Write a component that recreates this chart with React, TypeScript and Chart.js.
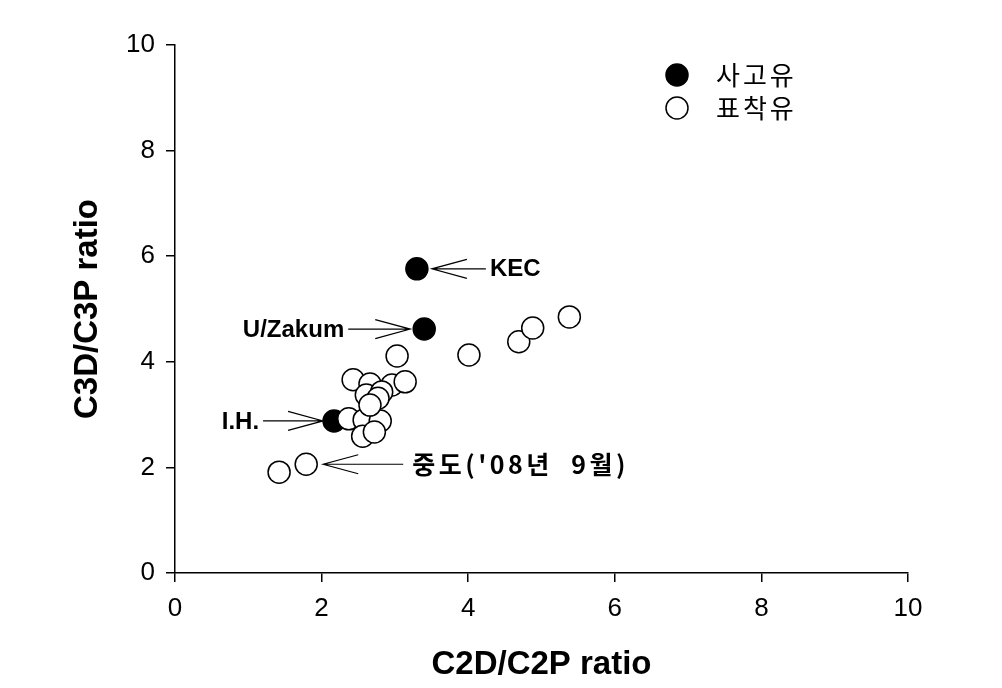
import React, { useEffect, useRef } from "react";
import { Chart, registerables } from "chart.js";

Chart.register(...registerables);

// ---- data ----
const spillNames = ["KEC", "U/Zakum", "I.H."];
const spillX = [3.3, 3.4, 2.17];
const spillY = [5.76, 4.62, 2.88];

const beachedX = [1.42, 1.79, 2.37, 2.58, 2.8, 2.56, 2.72, 2.43, 2.66, 2.96, 3.14, 2.61, 2.82, 2.77, 2.66, 3.03, 4.01, 4.69, 4.88, 5.38];
const beachedY = [1.91, 2.06, 2.92, 2.9, 2.88, 2.59, 2.67, 3.66, 3.58, 3.56, 3.62, 3.37, 3.43, 3.31, 3.18, 4.11, 4.13, 4.38, 4.64, 4.85];

const legendLabels = ["사고유", "표착유"];
const xTitle = "C2D/C2P ratio";
const yTitle = "C3D/C3P ratio";
const tickValues = [0, 2, 4, 6, 8, 10];
const jungdoLabel = "중도('08년  9월)";

// annotation: which series/point, side of the arrow, label
const annotations = [
  { series: 0, index: 0, side: "right", label: spillNames[0], korean: false },
  { series: 0, index: 1, side: "left", label: spillNames[1], korean: false },
  { series: 0, index: 2, side: "left", label: spillNames[2], korean: false },
  { series: 1, index: 1, side: "right", label: jungdoLabel, korean: true },
];

const LAT = "'Liberation Sans', Arial, sans-serif";
const KR = "'Noto Sans CJK KR', sans-serif";

const overlayPlugin = {
  id: "overlay",
  afterDatasetsDraw(chart: any) {
    const ctx = chart.ctx;
    const xs = chart.scales.x;
    const ys = chart.scales.y;
    const area = chart.chartArea;
    ctx.save();
    // arrows
    ctx.strokeStyle = "#000";
    ctx.fillStyle = "#000";
    ctx.lineWidth = 1.2;
    const tipGap: Record<string, number> = { KEC: 15, "U/Zakum": 14, "I.H.": 11 };
    const lineLen: Record<string, number> = { KEC: 54, "U/Zakum": 62, "I.H.": 60 };
    annotations.forEach((a) => {
      const vx = a.series === 0 ? spillX[a.index] : beachedX[a.index];
      const vy = a.series === 0 ? spillY[a.index] : beachedY[a.index];
      const px = xs.getPixelForValue(vx);
      const py = ys.getPixelForValue(vy);
      const gap = a.korean ? 17 : tipGap[a.label];
      const len = a.korean ? 80 : lineLen[a.label];
      const dir = a.side === "right" ? 1 : -1;
      const tipX = px + dir * gap;
      const endX = tipX + dir * len;
      ctx.beginPath();
      ctx.moveTo(tipX, py);
      ctx.lineTo(endX, py);
      ctx.moveTo(tipX + dir * 35, py - 9.5);
      ctx.lineTo(tipX, py);
      ctx.lineTo(tipX + dir * 35, py + 9.5);
      ctx.stroke();
      ctx.textBaseline = "middle";
      if (a.korean) {
        ctx.font = `600 25px ${KR}`;
        ctx.textAlign = "left";
        (ctx as any).letterSpacing = "3.5px";
        ctx.fillText(a.label, endX + 9, py);
        (ctx as any).letterSpacing = "0px";
      } else {
        ctx.font = `bold 24px ${LAT}`;
        ctx.textAlign = a.side === "right" ? "left" : "right";
        ctx.fillText(a.label, endX + dir * 4, py + 1);
      }
    });

    // legend
    const lx = area.left + 502;
    const ly = [area.top + 30, area.top + 63];
    legendLabels.forEach((lab, i) => {
      ctx.beginPath();
      ctx.arc(lx, ly[i], 11, 0, Math.PI * 2);
      ctx.fillStyle = i === 0 ? "#000" : "#fff";
      ctx.fill();
      ctx.lineWidth = 1.5;
      ctx.strokeStyle = "#000";
      ctx.stroke();
      ctx.fillStyle = "#000";
      ctx.font = `400 26px ${KR}`;
      ctx.textAlign = "left";
      ctx.textBaseline = "middle";
      (ctx as any).letterSpacing = "3px";
      ctx.fillText(lab, lx + 39, ly[i]);
      (ctx as any).letterSpacing = "0px";
    });

    // axis titles
    ctx.fillStyle = "#000";
    ctx.font = `bold 33px ${LAT}`;
    ctx.textAlign = "center";
    ctx.textBaseline = "middle";
    ctx.fillText(xTitle, (area.left + area.right) / 2, area.bottom + 92);
    ctx.save();
    ctx.translate(area.left - 87, (area.top + area.bottom) / 2);
    ctx.rotate(-Math.PI / 2);
    ctx.fillText(yTitle, 0, 0);
    ctx.restore();
    ctx.restore();
  },
};

export default function App() {
  const ref = useRef<HTMLCanvasElement | null>(null);
  useEffect(() => {
    if (!ref.current) return;
    const axisCommon = {
      type: "linear" as const,
      min: 0,
      max: 10,
      border: { display: true, color: "#000", width: 1.5 },
      grid: { display: true, drawOnChartArea: false, drawTicks: true, tickLength: 9, color: "#000", lineWidth: 1.5 },
      afterBuildTicks: (s: any) => {
        s.ticks = tickValues.map((v) => ({ value: v }));
      },
      ticks: {
        color: "#000",
        font: { family: LAT, size: 26 },
        padding: 11,
        callback: (v: any) => String(v),
      },
    };
    const chart = new Chart(ref.current, {
      type: "scatter",
      data: {
        datasets: [
          {
            label: legendLabels[0],
            data: spillX.map((x, i) => ({ x, y: spillY[i] })),
            backgroundColor: "#000",
            borderColor: "#000",
            borderWidth: 1.5,
            pointRadius: 11,
            pointHoverRadius: 11,
            order: 2,
          },
          {
            label: legendLabels[1],
            data: beachedX.map((x, i) => ({ x, y: beachedY[i] })),
            backgroundColor: "#fff",
            borderColor: "#000",
            borderWidth: 1.5,
            pointRadius: 11,
            pointHoverRadius: 11,
            order: 1,
          },
        ],
      },
      options: {
        responsive: false,
        animation: false,
        devicePixelRatio: 1,
        layout: { padding: { left: 0, top: 45, right: 94, bottom: 0 } },
        plugins: { legend: { display: false }, tooltip: { enabled: false } },
        scales: {
          x: {
            ...axisCommon,
            position: "bottom",
            afterFit: (s: any) => {
              s.height = 115;
            },
          },
          y: {
            ...axisCommon,
            position: "left",
            afterFit: (s: any) => {
              s.width = 175;
            },
          },
        },
      },
      plugins: [overlayPlugin],
    } as any);
    return () => chart.destroy();
  }, []);
  return (
    <div style={{ position: "fixed", left: 0, top: 0, width: 1002, height: 688, background: "#fff" }}>
      <canvas ref={ref} width={1002} height={688} style={{ display: "block" }} />
    </div>
  );
}
